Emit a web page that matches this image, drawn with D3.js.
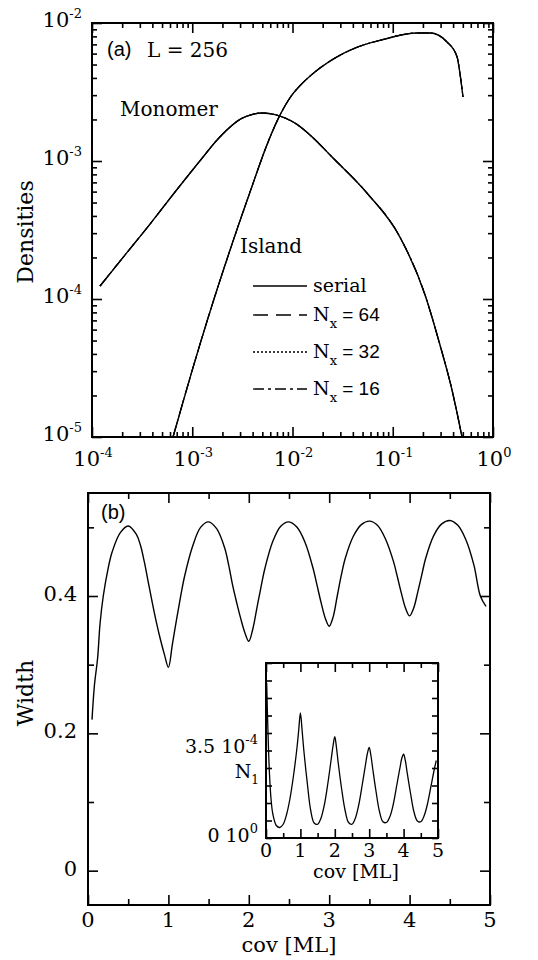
<!DOCTYPE html>
<html><head><meta charset="utf-8">
<script src="https://cdn.jsdelivr.net/npm/d3@7"></script>
<style>body{margin:0;background:#fff} svg{display:block}</style>
</head><body>
<svg id="c" width="538" height="960"></svg>
<script>
// ---------- DATA ----------
// Panel (a): densities vs coverage (log-log); all four runs coincide
const runs = ["serial", "64", "32", "16"];
const monomerCov  = [1.2e-4, 2.13e-4, 3.79e-4, 6.73e-4, 1.19e-3, 1.77e-3, 2.38e-3, 2.99e-3, 3.77e-3, 4.96e-3, 6.68e-3, 8.41e-3, 1.11e-2, 1.50e-2, 2.54e-2, 5.53e-2, 0.118, 0.210, 0.296, 0.390, 0.491];
const monomerDens = [1.24e-4, 2.08e-4, 3.49e-4, 5.96e-4, 1.0e-3, 1.42e-3, 1.76e-3, 2.0e-3, 2.15e-3, 2.23e-3, 2.17e-3, 2.05e-3, 1.84e-3, 1.54e-3, 1.05e-3, 5.86e-4, 2.81e-4, 1.07e-4, 4.64e-5, 2.19e-5, 1.0e-5];
const islandCov   = [6.43e-4, 9.49e-4, 1.50e-3, 2.38e-3, 3.77e-3, 5.70e-3, 7.16e-3, 9.44e-3, 1.19e-2, 1.50e-2, 1.88e-2, 2.65e-2, 4.01e-2, 8.0e-2, 0.175, 0.236, 0.348, 0.438, 0.469, 0.502];
const islandDens  = [1.0e-5, 2.68e-5, 8.05e-5, 2.26e-4, 5.96e-4, 1.37e-3, 2.01e-3, 2.87e-3, 3.52e-3, 4.13e-3, 4.72e-3, 5.57e-3, 6.49e-3, 7.59e-3, 8.47e-3, 8.47e-3, 7.28e-3, 5.68e-3, 4.27e-3, 2.91e-3];
const xTicksA = [1e-4, 1e-3, 1e-2, 1e-1, 1];
const xTickExpA = ["-4", "-3", "-2", "-1", "0"];
const yTicksA = [1e-5, 1e-4, 1e-3, 1e-2];
const yTickExpA = ["-5", "-4", "-3", "-2"];

// Panel (b): width vs coverage
const widthCov = [0.05,0.08,0.12,0.15,0.19,0.25,0.3,0.4,0.5,0.6,0.65,0.7,0.75,0.8,0.85,0.9,0.95,1.0,1.05,1.1,1.15,1.2,1.3,1.4,1.5,1.6,1.7,1.75,1.8,1.85,1.9,1.95,2.0,2.05,2.1,2.15,2.2,2.3,2.4,2.5,2.6,2.7,2.8,2.85,2.9,2.95,3.0,3.05,3.1,3.15,3.2,3.3,3.4,3.5,3.6,3.7,3.8,3.85,3.9,3.95,4.0,4.05,4.1,4.15,4.2,4.3,4.4,4.5,4.6,4.7,4.8,4.88,4.95];
const widthVal = [0.22,0.27,0.31,0.36,0.40,0.44,0.464,0.492,0.502,0.49,0.475,0.45,0.42,0.39,0.362,0.337,0.315,0.296,0.33,0.365,0.398,0.428,0.472,0.50,0.508,0.498,0.47,0.445,0.415,0.39,0.367,0.347,0.334,0.352,0.382,0.412,0.44,0.48,0.502,0.508,0.50,0.478,0.44,0.415,0.39,0.368,0.356,0.37,0.40,0.43,0.455,0.487,0.504,0.509,0.503,0.483,0.45,0.427,0.403,0.382,0.371,0.382,0.405,0.43,0.455,0.488,0.505,0.51,0.503,0.482,0.445,0.40,0.385];
const xTicksB = [0, 1, 2, 3, 4, 5];
const yTicksB = [0, 0.2, 0.4];

// Inset: N1 (units of 1e-4) vs coverage
const n1Cov = [0.02,0.05,0.1,0.15,0.2,0.3,0.4,0.5,0.6,0.7,0.8,0.9,0.95,1.0,1.05,1.1,1.2,1.3,1.4,1.5,1.6,1.7,1.8,1.9,1.95,2.0,2.05,2.1,2.2,2.3,2.4,2.5,2.6,2.7,2.8,2.9,2.95,3.0,3.05,3.1,3.2,3.3,3.4,3.5,3.6,3.7,3.8,3.9,3.95,4.0,4.05,4.1,4.2,4.3,4.4,4.5,4.6,4.7,4.8,4.9,4.95];
const n1Val = [6.2,4.6,2.6,1.5,0.95,0.5,0.42,0.55,0.95,1.6,2.5,3.6,4.3,5.0,4.3,3.5,2.2,1.1,0.6,0.55,0.8,1.35,2.2,3.2,3.7,4.05,3.6,3.0,1.95,1.1,0.62,0.55,0.8,1.35,2.15,3.0,3.4,3.62,3.3,2.8,1.85,1.05,0.65,0.62,0.85,1.35,2.1,2.85,3.2,3.35,3.1,2.65,1.8,1.05,0.68,0.65,0.9,1.4,2.1,2.8,3.1];

// ---------- DRAW ----------
const SERIF = "'DejaVu Serif', serif";
const SANS = "'Liberation Sans', Arial, sans-serif";
const svg = d3.select("#c");
const zip = (a, b) => a.map((v, i) => ({x: v, y: b[i]}));

function tickAxes(g, axisFn, scale, vals, size, tx, ty) {
  g.append("g").attr("transform", `translate(${tx},${ty})`)
    .call(axisFn(scale).tickValues(vals).tickSize(size).tickSizeOuter(0).tickFormat(""))
    .call(s => s.select(".domain").remove())
    .call(s => s.selectAll("line").attr("stroke", "#000").attr("stroke-width", 1.6));
}
function supLabel(g, x, y, base, exp, anchor, fs, sfs, font) {
  const t = g.append("text").attr("x", x).attr("y", y).attr("text-anchor", anchor)
    .attr("font-family", font || SERIF).attr("font-size", fs).attr("fill", "#000");
  t.append("tspan").text(base);
  t.append("tspan").attr("dy", -fs * 0.45).attr("font-size", sfs).text(exp);
  return t;
}

// ===== Panel (a) =====
const xa = d3.scaleLog().domain([1e-4, 1]).range([92, 493]);
const ya = d3.scaleLog().domain([1e-5, 1e-2]).range([437, 23]);
const gA = svg.append("g");
const xMinorA = xa.ticks().filter(v => !xTicksA.some(m => Math.abs(m - v) / m < 1e-6));
const yMinorA = ya.ticks().filter(v => !yTicksA.some(m => Math.abs(m - v) / m < 1e-6));
tickAxes(gA, d3.axisBottom, xa, xMinorA, -5, 0, 437);
tickAxes(gA, d3.axisBottom, xa, xTicksA, -10, 0, 437);
tickAxes(gA, d3.axisTop, xa, xMinorA, -5, 0, 23);
tickAxes(gA, d3.axisTop, xa, xTicksA, -10, 0, 23);
tickAxes(gA, d3.axisLeft, ya, yMinorA, -5, 92, 0);
tickAxes(gA, d3.axisLeft, ya, yTicksA, -10, 92, 0);
tickAxes(gA, d3.axisRight, ya, yMinorA, -5, 493, 0);
tickAxes(gA, d3.axisRight, ya, yTicksA, -10, 493, 0);
gA.append("rect").attr("x", 92).attr("y", 23).attr("width", 401).attr("height", 414)
  .attr("fill", "none").attr("stroke", "#000").attr("stroke-width", 2);

xTicksA.forEach((v, i) => supLabel(gA, xa(v) + 1, 466, "10", xTickExpA[i], "middle", 21, 13));
yTicksA.forEach((v, i) => supLabel(gA, 82, ya(v) + 4, "10", yTickExpA[i], "end", 21, 13));

gA.append("text").attr("transform", "translate(33,232) rotate(-90)").attr("text-anchor", "middle")
  .attr("font-family", SERIF).attr("font-size", 22).text("Densities");

const lineA = d3.line().x(d => xa(d.x)).y(d => ya(d.y)).curve(d3.curveMonotoneX);
const dashes = [null, "15,8", "2,2", "11,4,3,4"];
runs.forEach((r, i) => {
  [zip(monomerCov, monomerDens), zip(islandCov, islandDens)].forEach(data => {
    gA.append("path").datum(data).attr("d", lineA).attr("fill", "none")
      .attr("stroke", "#000").attr("stroke-width", i === 0 ? 1.4 : 1.1)
      .attr("stroke-dasharray", dashes[i]);
  });
});

gA.append("text").attr("x", 107).attr("y", 56).attr("font-family", SANS).attr("font-size", 20).text("(a)");
gA.append("text").attr("x", 147).attr("y", 57).attr("font-family", SERIF).attr("font-size", 20).text("L = 256");
gA.append("text").attr("x", 120).attr("y", 116).attr("font-family", SERIF).attr("font-size", 20).text("Monomer");
gA.append("text").attr("x", 240).attr("y", 253).attr("font-family", SERIF).attr("font-size", 20).text("Island");

// legend
const legY = [286, 315, 352, 389];
runs.forEach((r, i) => {
  gA.append("line").attr("x1", 253).attr("x2", 307).attr("y1", legY[i]).attr("y2", legY[i])
    .attr("stroke", "#000").attr("stroke-width", i === 0 ? 1.6 : 1.3).attr("stroke-dasharray", dashes[i]);
  const t = gA.append("text").attr("x", 313).attr("y", legY[i] + 6).attr("font-size", 19).attr("fill", "#000");
  if (r === "serial") {
    t.attr("font-family", SERIF).text("serial");
  } else {
    t.append("tspan").attr("font-family", SERIF).text("N");
    t.append("tspan").attr("font-family", SERIF).attr("font-size", 13).attr("dy", 7).text("x");
    t.append("tspan").attr("font-family", SANS).attr("dy", -7).text(" = " + r);
  }
});

// ===== Panel (b) =====
const xb = d3.scaleLinear().domain([0, 5]).range([88, 490]);
const yb = d3.scaleLinear().domain([-0.05, 0.55]).range([905, 493]);
const gB = svg.append("g");
const xMinB = d3.range(0.5, 5, 1);
const yMinB = [0.1, 0.3, 0.5];
tickAxes(gB, d3.axisBottom, xb, xMinB, -6, 0, 905);
tickAxes(gB, d3.axisBottom, xb, xTicksB, -10, 0, 905);
tickAxes(gB, d3.axisTop, xb, xMinB, -6, 0, 493);
tickAxes(gB, d3.axisTop, xb, xTicksB, -10, 0, 493);
tickAxes(gB, d3.axisLeft, yb, yMinB, -6, 88, 0);
tickAxes(gB, d3.axisLeft, yb, yTicksB, -10, 88, 0);
tickAxes(gB, d3.axisRight, yb, yMinB, -6, 490, 0);
tickAxes(gB, d3.axisRight, yb, yTicksB, -10, 490, 0);
gB.append("rect").attr("x", 88).attr("y", 493).attr("width", 402).attr("height", 412)
  .attr("fill", "none").attr("stroke", "#000").attr("stroke-width", 2);

xTicksB.forEach(v => gB.append("text").attr("x", xb(v)).attr("y", 927).attr("text-anchor", "middle")
  .attr("font-family", SERIF).attr("font-size", 21).text(v));
yTicksB.forEach(v => gB.append("text").attr("x", 77).attr("y", yb(v) + 5).attr("text-anchor", "end")
  .attr("font-family", SERIF).attr("font-size", 21).text(v === 0 ? "0" : v.toFixed(1)));
gB.append("text").attr("x", 289).attr("y", 952).attr("text-anchor", "middle")
  .attr("font-family", SERIF).attr("font-size", 21).text("cov [ML]");
gB.append("text").attr("transform", "translate(33,693) rotate(-90)").attr("text-anchor", "middle")
  .attr("font-family", SERIF).attr("font-size", 22).text("Width");
gB.append("text").attr("x", 101).attr("y", 519).attr("font-family", SANS).attr("font-size", 20).text("(b)");

const lineB = d3.line().x(d => xb(d.x)).y(d => yb(d.y)).curve(d3.curveCatmullRom.alpha(0.5));
gB.append("path").datum(zip(widthCov, widthVal)).attr("d", lineB).attr("fill", "none")
  .attr("stroke", "#000").attr("stroke-width", 1.4);

// ===== Inset =====
const xi = d3.scaleLinear().domain([0, 5]).range([266, 438]);
const yi = d3.scaleLinear().domain([0, 7]).range([838, 663]);
const gI = svg.append("g");
gI.append("rect").attr("x", 266).attr("y", 663).attr("width", 172).attr("height", 175).attr("fill", "#fff");
tickAxes(gI, d3.axisBottom, xi, xMinB, -5, 0, 838);
tickAxes(gI, d3.axisBottom, xi, xTicksB, -9, 0, 838);
tickAxes(gI, d3.axisTop, xi, xMinB, -5, 0, 663);
tickAxes(gI, d3.axisTop, xi, xTicksB, -9, 0, 663);
const yTicksI = d3.range(0, 7.01, 0.7);
tickAxes(gI, d3.axisLeft, yi, yTicksI, -6, 266, 0);
tickAxes(gI, d3.axisRight, yi, yTicksI, -6, 438, 0);
gI.append("rect").attr("x", 266).attr("y", 663).attr("width", 172).attr("height", 175)
  .attr("fill", "none").attr("stroke", "#000").attr("stroke-width", 2);

xTicksB.forEach(v => gI.append("text").attr("x", xi(v)).attr("y", 857).attr("text-anchor", "middle")
  .attr("font-family", SERIF).attr("font-size", 19).text(v));
gI.append("text").attr("x", 356).attr("y", 878).attr("text-anchor", "middle")
  .attr("font-family", SERIF).attr("font-size", 19).text("cov [ML]");
supLabel(gI, 258, yi(3.5) + 2, "3.5 10", "-4", "end", 19, 13);
supLabel(gI, 258, yi(0) + 4, "0 10", "0", "end", 19, 13);
const tn = gI.append("text").attr("x", 259).attr("y", 778).attr("text-anchor", "end")
  .attr("font-family", SERIF).attr("font-size", 19);
tn.append("tspan").text("N");
tn.append("tspan").attr("font-size", 12).attr("dy", 6).text("1");

const lineI = d3.line().x(d => xi(d.x)).y(d => yi(d.y)).curve(d3.curveCatmullRom.alpha(0.5));
gI.append("path").datum(zip(n1Cov, n1Val)).attr("d", lineI).attr("fill", "none")
  .attr("stroke", "#000").attr("stroke-width", 1.3);
</script>
</body></html>
